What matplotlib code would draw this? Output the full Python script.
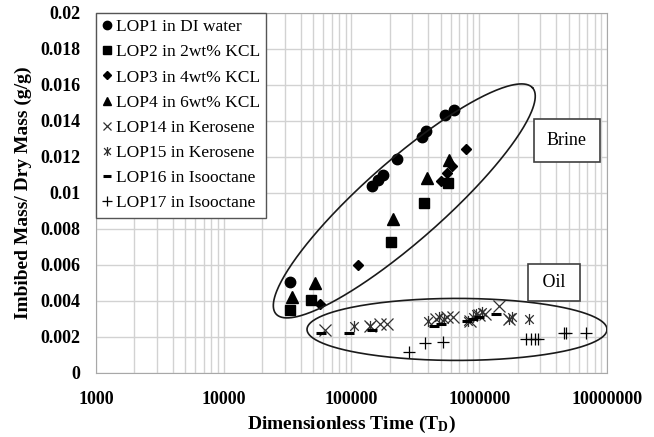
import numpy as np
import matplotlib
matplotlib.use('Agg')
import matplotlib.pyplot as plt
from matplotlib.path import Path
from matplotlib.ticker import LogLocator, NullFormatter

plt.rcParams['font.family'] = 'Liberation Serif'
plt.rcParams['mathtext.fontset'] = 'custom'
plt.rcParams['mathtext.rm'] = 'Liberation Serif'
plt.rcParams['mathtext.bf'] = 'Liberation Serif:bold'

# Brine samples
lop1_t = [32800, 145000, 160000, 176000, 226000, 356000, 383000, 542000, 634000]
lop1_m = [0.00506, 0.0104, 0.0107, 0.0110, 0.0119, 0.01313, 0.01344, 0.01433, 0.0146]
lop2_t = [32800, 48400, 203000, 372000, 565000]
lop2_m = [0.0035, 0.00406, 0.0073, 0.00946, 0.01054]
lop3_t = [56900, 112000, 501000, 556000, 612000, 787000]
lop3_m = [0.00383, 0.0060, 0.01069, 0.01113, 0.0115, 0.01243]
lop4_t = [34400, 51400, 210000, 388000, 583000]
lop4_m = [0.00424, 0.00502, 0.00854, 0.01081, 0.01183]

# Oil samples
lop14_t = [61500, 140000, 166000, 189000, 460000, 560000, 620000, 850000,
           1000000, 1100000, 1430000, 1700000]
lop14_m = [0.0024, 0.0026, 0.0027, 0.0027, 0.0030, 0.0031, 0.0031, 0.0029,
           0.0032, 0.0033, 0.0037, 0.0030]
lop15_t = [104000, 140000, 400000, 480000, 530000, 820000, 900000, 950000,
           1050000, 1700000, 1800000, 2450000]
lop15_m = [0.0026, 0.0026, 0.0029, 0.0031, 0.0030, 0.0029, 0.0031, 0.0033,
           0.0034, 0.0030, 0.0031, 0.0030]
lop16_t = [58000, 95500, 145000, 440000, 500000, 800000, 900000, 1000000, 1350000]
lop16_m = [0.0022, 0.0022, 0.0024, 0.0026, 0.0027, 0.0029, 0.0030, 0.0031, 0.0033]
lop17_t = [284000, 378000, 523000, 2310000, 2530000, 2740000, 2860000,
           4610000, 4810000, 6810000]
lop17_m = [0.00115, 0.00165, 0.0017, 0.00187, 0.00187, 0.00189, 0.0019,
           0.0022, 0.0022, 0.0022]

x_ticks = [1000, 10000, 100000, 1000000, 10000000]
x_labels = ['1000', '10000', '100000', '1000000', '10000000']
y_ticks = [0, 0.002, 0.004, 0.006, 0.008, 0.01, 0.012, 0.014, 0.016, 0.018, 0.02]
y_labels = ['0', '0.002', '0.004', '0.006', '0.008', '0.01', '0.012',
            '0.014', '0.016', '0.018', '0.02']

# asterisk: an x with a vertical bar through it
star = Path([(-1, -1), (1, 1), (-1, 1), (1, -1), (0, -1.3), (0, 1.3)],
            [Path.MOVETO, Path.LINETO, Path.MOVETO, Path.LINETO, Path.MOVETO, Path.LINETO])

fig = plt.figure(figsize=(6.54, 4.37), dpi=100)
ax = fig.add_axes([0.1468, 0.1465, 0.7813, 0.8238])
ax.set_xscale('log')
ax.set_xlim(1e3, 1e7)
ax.set_ylim(0, 0.02)

ax.plot(lop1_t, lop1_m, 'o', color='k', ms=7.5, ls='none', label='LOP1 in DI water')
ax.plot(lop2_t, lop2_m, 's', color='k', ms=7, ls='none', label='LOP2 in 2wt% KCL')
ax.plot(lop3_t, lop3_m, 'D', color='k', ms=5.5, ls='none', label='LOP3 in 4wt% KCL')
ax.plot(lop4_t, lop4_m, '^', color='k', ms=8, ls='none', label='LOP4 in 6wt% KCL')
ax.plot(lop14_t, lop14_m, 'x', color='#303030', ms=8, mew=0.9, ls='none',
        label='LOP14 in Kerosene')
ax.plot(lop15_t, lop15_m, marker=star, color='#303030', ms=8, mew=0.9, ls='none',
        label='LOP15 in Kerosene')
ax.plot(lop16_t, lop16_m, '_', color='k', ms=7, mew=2.2, ls='none',
        label='LOP16 in Isooctane')
ax.plot(lop17_t, lop17_m, '+', color='k', ms=9, mew=0.9, ls='none',
        label='LOP17 in Isooctane')


def ellipse(ax, xc, yc, a, b, angle):
    # ellipse drawn in screen pixels around a data-space centre
    cx, cy = ax.transData.transform((xc, yc))
    t = np.linspace(0, 2 * np.pi, 300)
    th = np.radians(angle)
    px = cx + a * np.cos(t) * np.cos(th) - b * np.sin(t) * np.sin(th)
    py = cy + a * np.cos(t) * np.sin(th) + b * np.sin(t) * np.cos(th)
    pts = ax.transData.inverted().transform(np.column_stack([px, py]))
    ax.plot(pts[:, 0], pts[:, 1], color='#1a1a1a', lw=1.2, clip_on=False)


ellipse(ax, 2.59e5, 0.00956, 171, 40, 41.4)
ellipse(ax, 6.7e5, 0.00242, 150, 31, 0)

box = dict(boxstyle='square,pad=0.7', fc='white', ec='#404040', lw=1.2)
ax.text(4.86e6, 0.01292, 'Brine', fontsize=13, ha='center', va='center', bbox=box)
ax.text(3.85e6, 0.00503, ' Oil ', fontsize=13, ha='center', va='center',
        bbox=dict(box, boxstyle='square,pad=0.55'))

ax.set_xticks(x_ticks)
ax.set_xticklabels(x_labels, fontweight='bold')
ax.set_yticks(y_ticks)
ax.set_yticklabels(y_labels, fontweight='bold')
ax.xaxis.set_minor_locator(LogLocator(base=10, subs=range(2, 10)))
ax.xaxis.set_minor_formatter(NullFormatter())
ax.tick_params(which='both', length=0, labelsize=13)
ax.tick_params(axis='y', pad=11)
ax.tick_params(axis='x', pad=13)

ax.grid(True, which='major', color='#d2d2d2', lw=1)
ax.grid(True, which='minor', axis='x', color='#d2d2d2', lw=1)
ax.set_axisbelow(True)
for s in ax.spines.values():
    s.set_color('#a8a8a8')

ax.set_xlabel('Dimensionless Time ($\\mathbf{T_D}$)', fontsize=14, fontweight='bold',
              labelpad=4)
ax.set_ylabel('Imbibed Mass/ Dry Mass (g/g)', fontsize=14, fontweight='bold',
              labelpad=6)

leg = ax.legend(loc='upper left', bbox_to_anchor=(0, 1), borderaxespad=0,
                fancybox=False, edgecolor='#555555', framealpha=1,
                fontsize=12.5, handlelength=0.6, handletextpad=0.2,
                labelspacing=0.52, borderpad=0.35, markerscale=0.8)
leg.get_frame().set_linewidth(1.0)

fig.savefig('out.png', dpi=100)
